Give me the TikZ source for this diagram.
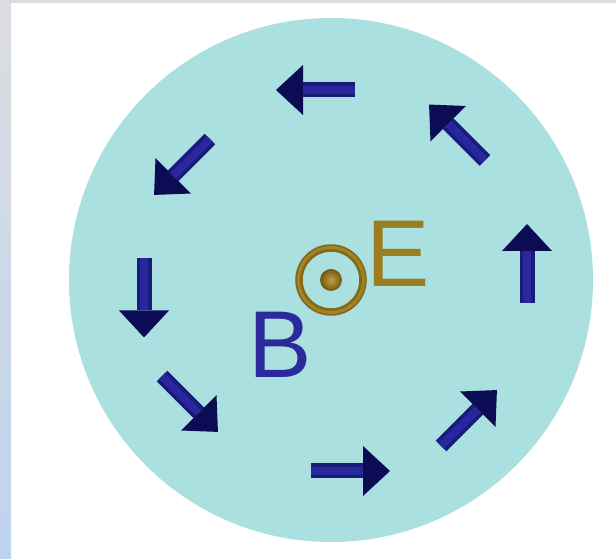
\documentclass[tikz,border=0pt]{standalone}
\usepackage{fontspec}
\setmainfont{Liberation Sans}
\usetikzlibrary{arrows.meta,calc}
\definecolor{disc}{RGB}{170,224,224}
\definecolor{shaftblue}{RGB}{26,26,120}
\definecolor{shineblue}{RGB}{40,40,158}
\definecolor{headblue}{RGB}{12,12,84}
\definecolor{ringgold}{RGB}{132,105,24}
\definecolor{ringshine}{RGB}{160,130,40}
\definecolor{dotlight}{RGB}{196,160,64}
\definecolor{dotdark}{RGB}{112,88,18}
\definecolor{egold}{RGB}{154,125,32}
\definecolor{bblue}{RGB}{42,42,156}
\definecolor{stripgrey}{RGB}{220,221,224}
\definecolor{stripblue}{RGB}{190,212,238}
\tikzset{
  arr/.style={-{Triangle[length=27pt, width=50pt, line width=0pt, color=headblue]}, line width=15pt, shaftblue},
  shine/.style={line width=8pt, shineblue},
  lbl/.style={inner sep=0pt, anchor=base west, font=\fontsize{95}{95}\selectfont},
}

\begin{document}
\begin{tikzpicture}[x=1pt, y=1pt]

\useasboundingbox (0,0) rectangle (616,559);
\fill[white] (0,0) rectangle (616,559);
\shade[top color=stripgrey, bottom color=stripblue] (0,0) rectangle (11,559);
\fill[stripgrey] (0,556) rectangle (616,559);

\coordinate (o) at (331,279);
\fill[disc] (o) circle (262);

\foreach \x/\y/\a in {315.5/469/180, 182/392/225, 144/261/270, 190/155/315,
                      350.5/88/0, 469/141/45, 527/295.5/90, 457/426.5/135} {
  \coordinate (c) at (\x,\y);
  \draw[arr] ($(c)+(\a+180:39.5)$) -- ($(c)+(\a:39.5)$);
  \draw[shine] ($(c)+(\a+180:39.5)$) -- ($(c)+(\a:12.5)$);
}

\draw[line width=7.5pt, ringgold] (o) circle (32);
\draw[line width=3pt, ringshine] (o) circle (32.5);
\shade[inner color=dotlight, outer color=dotdark] (o) circle (11);

\node[lbl, text=egold] (elabel) at (366,272) {E};
\node[lbl, text=bblue] (blabel) at (248,181) {B};

\end{tikzpicture}
\end{document}
